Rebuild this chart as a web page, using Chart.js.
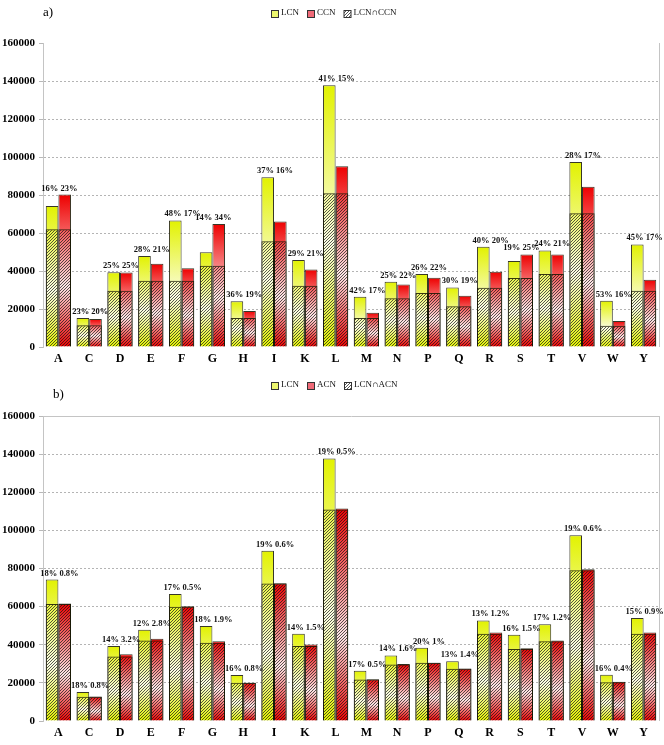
<!DOCTYPE html>
<html>
<head>
<meta charset="utf-8">
<title>Amino acid composition</title>
<script src="https://cdn.jsdelivr.net/npm/chart.js@4.4.0/dist/chart.umd.min.js"></script>
<style>
    html, body { margin: 0; padding: 0; background: #fff; }
    #wrap { position: relative; width: 664px; height: 745px; }
    canvas { position: absolute; left: 0; }
    #chartA { top: 0; }
    #chartB { top: 370px; }
</style>
</head>
<body>
<div id="wrap">
    <canvas id="chartA" width="664" height="370"></canvas>
    <canvas id="chartB" width="664" height="375"></canvas>
</div>
<script>
// Amino acids along the x axis
const categories = ['A', 'C', 'D', 'E', 'F', 'G', 'H', 'I', 'K', 'L', 'M', 'N', 'P', 'Q', 'R', 'S', 'T', 'V', 'W', 'Y'];

// Residue counts (LCN is the same in both panels)
const lcn = [74200, 15200, 39300, 47900, 66600, 49900, 24100, 89300, 45800, 137700, 26400, 34400, 38400, 31300, 52700, 45300, 50800, 97400, 24300, 54000];
const ccn = [80200, 14700, 39250, 43800, 41500, 64800, 18900, 66000, 40800, 95100, 18050, 32900, 36400, 27000, 39600, 48700, 48700, 84400, 13700, 35400];
const lcnCcn = [62000, 11400, 29600, 34900, 34900, 42700, 15200, 55700, 32200, 80900, 15200, 25700, 28400, 21400, 31200, 36300, 38400, 70400, 11200, 29600];
const acn = [61600, 12800, 35000, 43200, 60200, 41800, 20100, 72300, 40100, 111500, 21900, 29900, 30600, 27600, 46400, 38100, 42200, 79600, 20600, 46400];
const lcnAcn = [61400, 12700, 33800, 42200, 60000, 41100, 20100, 72100, 39400, 111000, 21800, 29600, 30600, 27400, 45800, 37800, 41800, 79100, 20300, 45800];

// Percentages printed above each pair of bars
const lcnOnlyA = [16, 23, 25, 28, 48, 14, 36, 37, 29, 41, 42, 25, 26, 30, 40, 19, 24, 28, 53, 45];
const ccnOnly = [23, 20, 25, 21, 17, 34, 19, 16, 21, 15, 17, 22, 22, 19, 20, 25, 21, 17, 16, 17];
const lcnOnlyB = [18, 18, 14, 12, 17, 18, 16, 19, 14, 19, 17, 14, 20, 13, 13, 16, 17, 19, 16, 15];
const acnOnly = [0.8, 0.8, 3.2, 2.8, 0.5, 1.9, 0.8, 0.6, 1.5, 0.5, 0.5, 1.6, 1, 1.4, 1.2, 1.5, 1.2, 0.6, 0.4, 0.9];

// Y axis tick values
const yTicks = [0, 20000, 40000, 60000, 80000, 100000, 120000, 140000, 160000];

const SERIF = "'Liberation Serif', 'Times New Roman', serif";
const YELLOW = '#e2f200';
const YELLOW_LIGHT = '#fbfde4';
const RED = '#ee0000';
const RED_LIGHT = '#fde6e6';
const EDGE = 'rgba(20, 20, 0, 0.85)';
const GRID = '#b4b4b4';

// Small tile of diagonal strokes used for the overlap hatching
function makeHatchTile() {
    const c = document.createElement('canvas');
    c.width = 3;
    c.height = 3;
    const g = c.getContext('2d');
    g.strokeStyle = 'rgba(20, 20, 20, 0.7)';
    g.lineWidth = 1;
    g.beginPath();
    g.moveTo(0, 3); g.lineTo(3, 0);
    g.moveTo(-1, 1); g.lineTo(1, -1);
    g.moveTo(2, 4); g.lineTo(4, 2);
    g.stroke();
    return c;
}
const hatchTile = makeHatchTile();

// Vertical gradient per bar: colour at the top, pale near 60%, colour at the base
function shade(color, light, values) {
    return (c) => {
        const chart = c.chart;
        const y = chart.scales.y;
        if (c.type !== 'data' || !y || !chart.chartArea) return color;
        const top = y.getPixelForValue(values[c.dataIndex]);
        const base = y.getPixelForValue(0);
        if (!isFinite(top) || !isFinite(base) || top === base) return color;
        const g = chart.ctx.createLinearGradient(0, top, 0, base);
        g.addColorStop(0, color);
        g.addColorStop(0.6, light);
        g.addColorStop(1, color);
        return g;
    };
}

// Panel tag, legend, frame and percentage labels
const decor = {
    id: 'decor',
    afterDraw(chart, args, opts) {
        const { ctx, chartArea: area, scales: { x, y } } = chart;
        ctx.save();

        // right frame
        ctx.strokeStyle = '#c4c4c4';
        ctx.lineWidth = 1;
        ctx.beginPath();
        ctx.moveTo(area.right + 0.5, area.top);
        ctx.lineTo(area.right + 0.5, area.bottom);
        ctx.stroke();

        // panel tag
        ctx.fillStyle = '#000';
        ctx.font = '13px ' + SERIF;
        ctx.textAlign = 'left';
        ctx.textBaseline = 'middle';
        ctx.fillText(opts.tag, opts.tagX, opts.tagY);

        // legend
        ctx.font = '9px ' + SERIF;
        const box = 7;
        const widths = opts.legend.map(item => box + 3 + ctx.measureText(item.label).width);
        const total = widths.reduce((s, w) => s + w, 0) + 8 * (widths.length - 1);
        let lx = Math.round(opts.legendX - total / 2);
        const ly = opts.legendY;
        opts.legend.forEach((item, i) => {
            const bx = lx + 0.5;
            const by = Math.round(ly - box / 2) + 0.5;
            if (item.kind === 'hatch') {
                ctx.fillStyle = '#fff';
                ctx.fillRect(bx, by, box, box);
                ctx.fillStyle = ctx.createPattern(hatchTile, 'repeat');
                ctx.fillRect(bx, by, box, box);
            } else {
                ctx.fillStyle = item.kind === 'yellow' ? '#edf76e' : '#f06a78';
                ctx.fillRect(bx, by, box, box);
            }
            ctx.strokeStyle = '#333';
            ctx.strokeRect(bx, by, box, box);
            ctx.fillStyle = '#111';
            ctx.fillText(item.label, lx + box + 3, ly);
            lx += widths[i] + 8;
        });

        // percentage pair above each category
        ctx.font = 'bold 8.5px ' + SERIF;
        ctx.fillStyle = '#111';
        ctx.textAlign = 'center';
        ctx.textBaseline = 'bottom';
        categories.forEach((cat, i) => {
            const top = Math.min(y.getPixelForValue(opts.first[i]), y.getPixelForValue(opts.second[i]));
            const text = opts.firstPct[i] + '% ' + opts.secondPct[i] + '%';
            ctx.fillText(text, x.getPixelForValue(i) + 1, top - 2);
        });

        ctx.restore();
    }
};

function makePanel(canvasId, cfg) {
    const ctx = document.getElementById(canvasId).getContext('2d');
    const hatch = ctx.createPattern(hatchTile, 'repeat');

    return new Chart(ctx, {
        type: 'bar',
        data: {
            labels: categories,
            datasets: [
                { label: cfg.overlapName, data: cfg.overlap, stack: 'left', backgroundColor: hatch, borderColor: EDGE, borderWidth: 1 },
                { label: cfg.overlapName, data: cfg.overlap, stack: 'right', backgroundColor: hatch, borderColor: EDGE, borderWidth: 1 },
                { label: 'LCN', data: lcn, stack: 'left', backgroundColor: shade(YELLOW, YELLOW_LIGHT, lcn), borderColor: EDGE, borderWidth: 1 },
                { label: cfg.otherName, data: cfg.other, stack: 'right', backgroundColor: shade(RED, RED_LIGHT, cfg.other), borderColor: EDGE, borderWidth: 1 }
            ]
        },
        options: {
            responsive: false,
            animation: false,
            layout: {
                padding: { top: cfg.padTop, right: 5, left: 0, bottom: 0 }
            },
            datasets: {
                bar: { categoryPercentage: 0.82, barPercentage: 1 }
            },
            plugins: {
                legend: { display: false },
                tooltip: { enabled: false },
                decor: {
                    tag: cfg.tag,
                    tagX: cfg.tagX,
                    tagY: cfg.tagY,
                    legendX: 334,
                    legendY: cfg.legendY,
                    legend: [
                        { label: 'LCN', kind: 'yellow' },
                        { label: cfg.otherName, kind: 'red' },
                        { label: cfg.overlapName, kind: 'hatch' }
                    ],
                    first: lcn,
                    second: cfg.other,
                    firstPct: cfg.firstPct,
                    secondPct: cfg.secondPct
                }
            },
            scales: {
                x: {
                    stacked: true,
                    grid: { display: false, drawTicks: false },
                    border: { display: false },
                    ticks: {
                        color: '#000',
                        padding: 5,
                        font: { family: SERIF, size: 12, weight: 'bold' }
                    },
                    afterFit: s => { s.height = cfg.xHeight; }
                },
                y: {
                    stacked: false,
                    min: 0,
                    max: 160000,
                    afterBuildTicks: s => { s.ticks = yTicks.map(v => ({ value: v })); },
                    afterFit: s => { s.width = 43; },
                    ticks: {
                        color: '#000',
                        padding: 4,
                        font: { family: SERIF, size: 11, weight: 'bold' },
                        callback: v => String(v)
                    },
                    grid: {
                        color: c => {
                            if (c.tick.value === 0) return 'rgba(0,0,0,0)';
                            if (c.tick.value === 160000) return cfg.topLine ? '#c4c4c4' : 'rgba(0,0,0,0)';
                            return GRID;
                        },
                        tickColor: '#b8b8b8',
                        tickLength: 4
                    },
                    border: {
                        display: true,
                        color: '#c4c4c4',
                        dash: c => (c.tick && c.tick.value === 160000 ? [] : [2, 2])
                    }
                }
            }
        },
        plugins: [decor]
    });
}

makePanel('chartA', {
    tag: 'a)', tagX: 43, tagY: 13, legendY: 13,
    otherName: 'CCN', overlapName: 'LCN\u2229CCN',
    other: ccn, overlap: lcnCcn,
    firstPct: lcnOnlyA, secondPct: ccnOnly,
    padTop: 43, xHeight: 23, topLine: false
});

makePanel('chartB', {
    tag: 'b)', tagX: 53, tagY: 25, legendY: 15,
    otherName: 'ACN', overlapName: 'LCN\u2229ACN',
    other: acn, overlap: lcnAcn,
    firstPct: lcnOnlyB, secondPct: acnOnly,
    padTop: 46, xHeight: 24, topLine: true
});
</script>
</body>
</html>
